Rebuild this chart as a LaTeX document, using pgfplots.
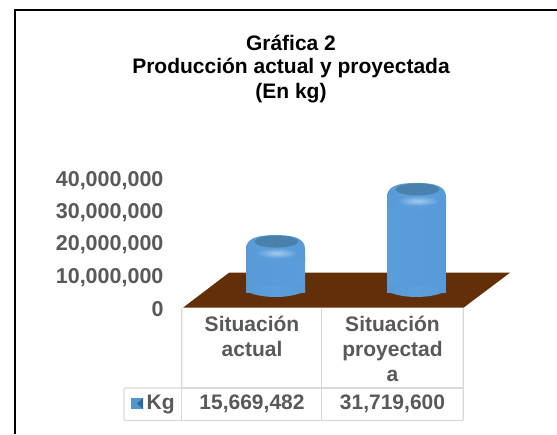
\documentclass[border=0pt]{standalone}
\usepackage{pgfplots}
\usepackage{fontspec}
\setmainfont{Liberation Sans}
\pgfplotsset{compat=1.18}
\definecolor{txt}{HTML}{595959}
\definecolor{floorc}{HTML}{622F08}
\definecolor{gridc}{HTML}{D9D9D9}
\definecolor{barmid}{HTML}{5B9FDD}
\definecolor{baredge}{HTML}{2F6796}
\definecolor{captop}{HTML}{4A80AC}
\pgfdeclarehorizontalshading{barshade}{100bp}{color(0bp)=(baredge!80!barmid); color(10bp)=(baredge!45!barmid); color(26bp)=(barmid!92!baredge); color(50bp)=(barmid); color(74bp)=(barmid!92!baredge); color(90bp)=(baredge!55!barmid); color(100bp)=(baredge)}
\pgfdeclareradialshading{capshade}{\pgfpoint{0bp}{0bp}}{color(0bp)=(captop); color(26bp)=(captop); color(50bp)=(barmid!70!captop)}
\pgfdeclareplotmark{barcap}{%
  \begin{scope}[x=1pt,y=1pt,yslant=0.12]
    \path[draw=none,shading=barshade,shading angle=0] (-29.5,-19) -- (-29.5,-7) .. controls (-29.5,3) and (-20,7) .. (0,7) .. controls (20,7) and (29.5,3) .. (29.5,-7) -- (29.5,-19) -- cycle;
    \path[draw=none,shading=capshade] (1,0.5) ellipse [x radius=22, y radius=6];
    \path[draw=none,inner color=barmid!55!white,outer color=barmid] (1.5,-11) ellipse [x radius=20, y radius=5];
  \end{scope}
}
\pgfdeclareplotmark{barbase}{%
  \begin{scope}[x=1pt,y=1pt,yslant=0.12]
    \path[draw=none,shading=barshade,shading angle=0] (-29.5,7) -- (-29.5,1.5) .. controls (-20,-2.5) and (-10,-4) .. (0,-4) .. controls (10,-4) and (20,-2.5) .. (29.5,1.5) -- (29.5,7) -- cycle;
  \end{scope}
}
\begin{document}
\begin{tikzpicture}[x=1pt,y=1pt]
\useasboundingbox (0,0) rectangle (557,434);
\fill[white] (0,0) rectangle (557,434);
\draw[black,line width=2pt] (14.5,0) -- (14.5,423.5) -- (557,423.5);
\node[align=center,text=black,font=\bfseries\fontsize{21}{23}\selectfont] at (291,364.5) {Gráfica 2\\Producción actual y proyectada\\[2pt](En kg)};
\begin{axis}[at={(0,0)},anchor=origin,x=1pt,y=3.225pt/1000000,
  xmin=0,xmax=557,ymin=-37000000,ymax=94000000,
  clip=false,hide x axis,axis y line=left,y axis line style={draw=none},
  scaled y ticks=false,
  ytick={0,10000000,20000000,30000000,40000000},
  major tick length=0pt,
  yticklabel style={/pgf/number format/.cd,fixed,1000 sep={,},/tikz/.cd,text=txt,font=\bfseries\fontsize{21.5}{24}\selectfont},
  /pgf/number format/assume math mode=true,
  xshift=167pt,yshift=124.5pt,
  ]
\end{axis}
\begin{axis}[at={(0,0)},anchor=origin,x=1pt,y=1pt,xmin=0,xmax=557,ymin=0,ymax=434,clip=false,axis lines=none]
\addplot[fill=floorc,draw=none] coordinates {(183,126.3) (229,161.3) (510,161.3) (463.5,126.3)} -- cycle;
\end{axis}
\begin{axis}[at={(0,0)},anchor=origin,x=141pt,y=3.25pt/1000000,
  xshift=275.5pt,yshift=141pt,
  xmin=0,xmax=1,ymin=0,ymax=40000000,clip=false,axis lines=none,
  scaled y ticks=false]
% the straight body stops below the value; the rounded cap reaches it
\addplot[ybar,bar width=59pt,bar shift=0pt,draw=none,shading=barshade,shading angle=0,y filter/.expression={y-4600000}] coordinates {(0,15669482) (1,31719600)};
\addplot[only marks,mark=barbase] coordinates {(0,0) (1,0)};
\addplot[only marks,mark=barcap] coordinates {(0,15669482) (1,31719600)};
\end{axis}
% data table
\draw[gridc,line width=1.2pt,rounded corners=1pt] (181.7,125.5) -- (181.7,46) -- (124,46) -- (124,13.5) -- (463.3,13.5) -- (463.3,125.5);
\draw[gridc,line width=1.2pt] (181.7,13.5) -- (181.7,46) (321.8,13.5) -- (321.8,125.5) (181.7,46) -- (463.3,46);
\begin{scope}[text=txt]
\node[align=center,anchor=north,inner sep=0pt,font=\bfseries\fontsize{21}{25}\selectfont] at (252,118) {Situación\\actual};
\node[align=center,anchor=north,inner sep=0pt,font=\bfseries\fontsize{21}{25}\selectfont] at (392.5,118) {Situación\\proyectad\\a};
\node[font=\bfseries\fontsize{21}{24}\selectfont] at (252,30) {15,669,482};
\node[font=\bfseries\fontsize{21}{24}\selectfont] at (392.5,30) {31,719,600};
\node[anchor=west,inner sep=0pt,font=\bfseries\fontsize{21}{24}\selectfont] at (146.5,29) {Kg};
\end{scope}
\fill[barmid!80!baredge] (131,25) rectangle (143,36);
\fill[baredge] (143,25) -- (143,36) -- (137,30.5) -- cycle;
\end{tikzpicture}
\end{document}
